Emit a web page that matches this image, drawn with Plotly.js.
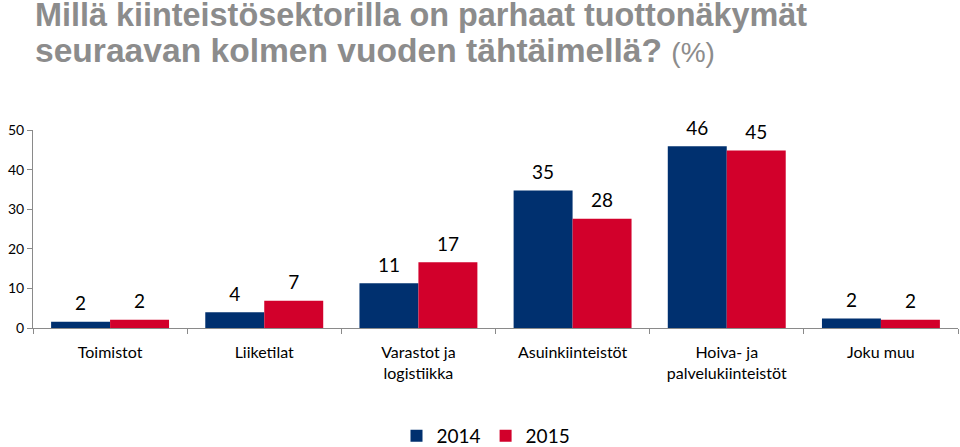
<!DOCTYPE html>
<html><head><meta charset="utf-8">
<script src="https://cdn.plot.ly/plotly-3.0.1.min.js"></script>
<style>html,body{margin:0;padding:0;background:#fff}</style>
</head><body><div id="chart" style="width:960px;height:447px"></div>
<script>
const categories = ["Toimistot", "Liiketilat", "Varastot ja<br>logistiikka", "Asuinkiinteistöt", "Hoiva- ja<br>palvelukiinteistöt", "Joku muu"];
const values2014 = [1.6, 4.0, 11.3, 34.7, 45.9, 2.4];
const values2015 = [2.1, 6.9, 16.6, 27.6, 44.8, 2.1];
const seriesNames = ["2014", "2015"];
const yTicks = [0, 10, 20, 30, 40, 50];
const titleLine1 = "Millä kiinteistösektorilla on parhaat tuottonäkymät";
const titleLine2 = "seuraavan kolmen vuoden tähtäimellä?";
const titleUnit = "(%)";

const FONT = "Lato, 'Open Sans', sans-serif";
const TFONT = "'Liberation Sans', Arial, sans-serif";
const TCOLOR = "#8c8c8c";
const mkBar = (name, y, color) => ({
  type: "bar", name: name, x: categories, y: y,
  marker: {color: color, line: {width: 0}}, hoverinfo: "skip"
});
const mkLbl = (name, y) => ({
  type: "scatter", mode: "markers+text", name: name + " labels", x: categories, y: y,
  text: y.map(v => Math.round(v).toString()), textposition: "top center",
  marker: {size: 9, opacity: 0}, showlegend: false, cliponaxis: false,
  textfont: {family: FONT, size: 19, color: "#000"}, hoverinfo: "skip"
});
const data = [
  mkBar(seriesNames[0], values2014, "#00306f"),
  mkBar(seriesNames[1], values2015, "#d2002b"),
  mkLbl(seriesNames[0], values2014),
  mkLbl(seriesNames[1], values2015)
];
const layout = {
  width: 960, height: 447,
  margin: {l: 33, r: 2, t: 130, b: 119},
  paper_bgcolor: "#fff", plot_bgcolor: "#fff",
  barmode: "group", bargap: 0.235, bargroupgap: 0,
  scattermode: "group", scattergap: 0.235,
  title: {
    text: titleLine1,
    font: {family: TFONT, size: 32.4, color: TCOLOR, weight: "bold"},
    x: 35/960, xanchor: "left", xref: "container",
    y: 1 - 3/447, yanchor: "top", yref: "container", pad: {t: 0}
  },
  annotations: [{
    text: titleLine2 + " <span style='font-size:28px;font-weight:normal'>" + titleUnit + "</span>",
    xref: "paper", yref: "paper", x: 0, xanchor: "left",
    y: (328 - 50.5) / 198, yanchor: "middle", showarrow: false,
    font: {family: TFONT, size: 33.6, color: TCOLOR, weight: "bold"}
  }],
  xaxis: {
    type: "category", showline: true, linecolor: "#8a8a8a", linewidth: 1,
    ticks: "outside", tickson: "boundaries", ticklen: 5, tickcolor: "#8a8a8a",
    ticklabelstandoff: 10,
    tickfont: {family: FONT, size: 16, color: "#000"}, showgrid: false, zeroline: false,
    fixedrange: true
  },
  yaxis: {
    range: [0, 50], tickvals: yTicks, showline: true, linecolor: "#8a8a8a", linewidth: 1,
    ticks: "outside", ticklen: 5, tickcolor: "#8a8a8a", showgrid: false, zeroline: false,
    tickfont: {family: FONT, size: 14, color: "#000"}, fixedrange: true
  },
  showlegend: true,
  legend: {
    orientation: "h", xref: "container", yref: "container",
    x: 486/960, xanchor: "center", y: 1 - 436/447, yanchor: "middle",
    font: {family: FONT, size: 19, color: "#000"}, itemwidth: 30, traceorder: "normal"
  }
};
Plotly.newPlot("chart", data, layout, {displayModeBar: false, staticPlot: true});
</script></body></html>
